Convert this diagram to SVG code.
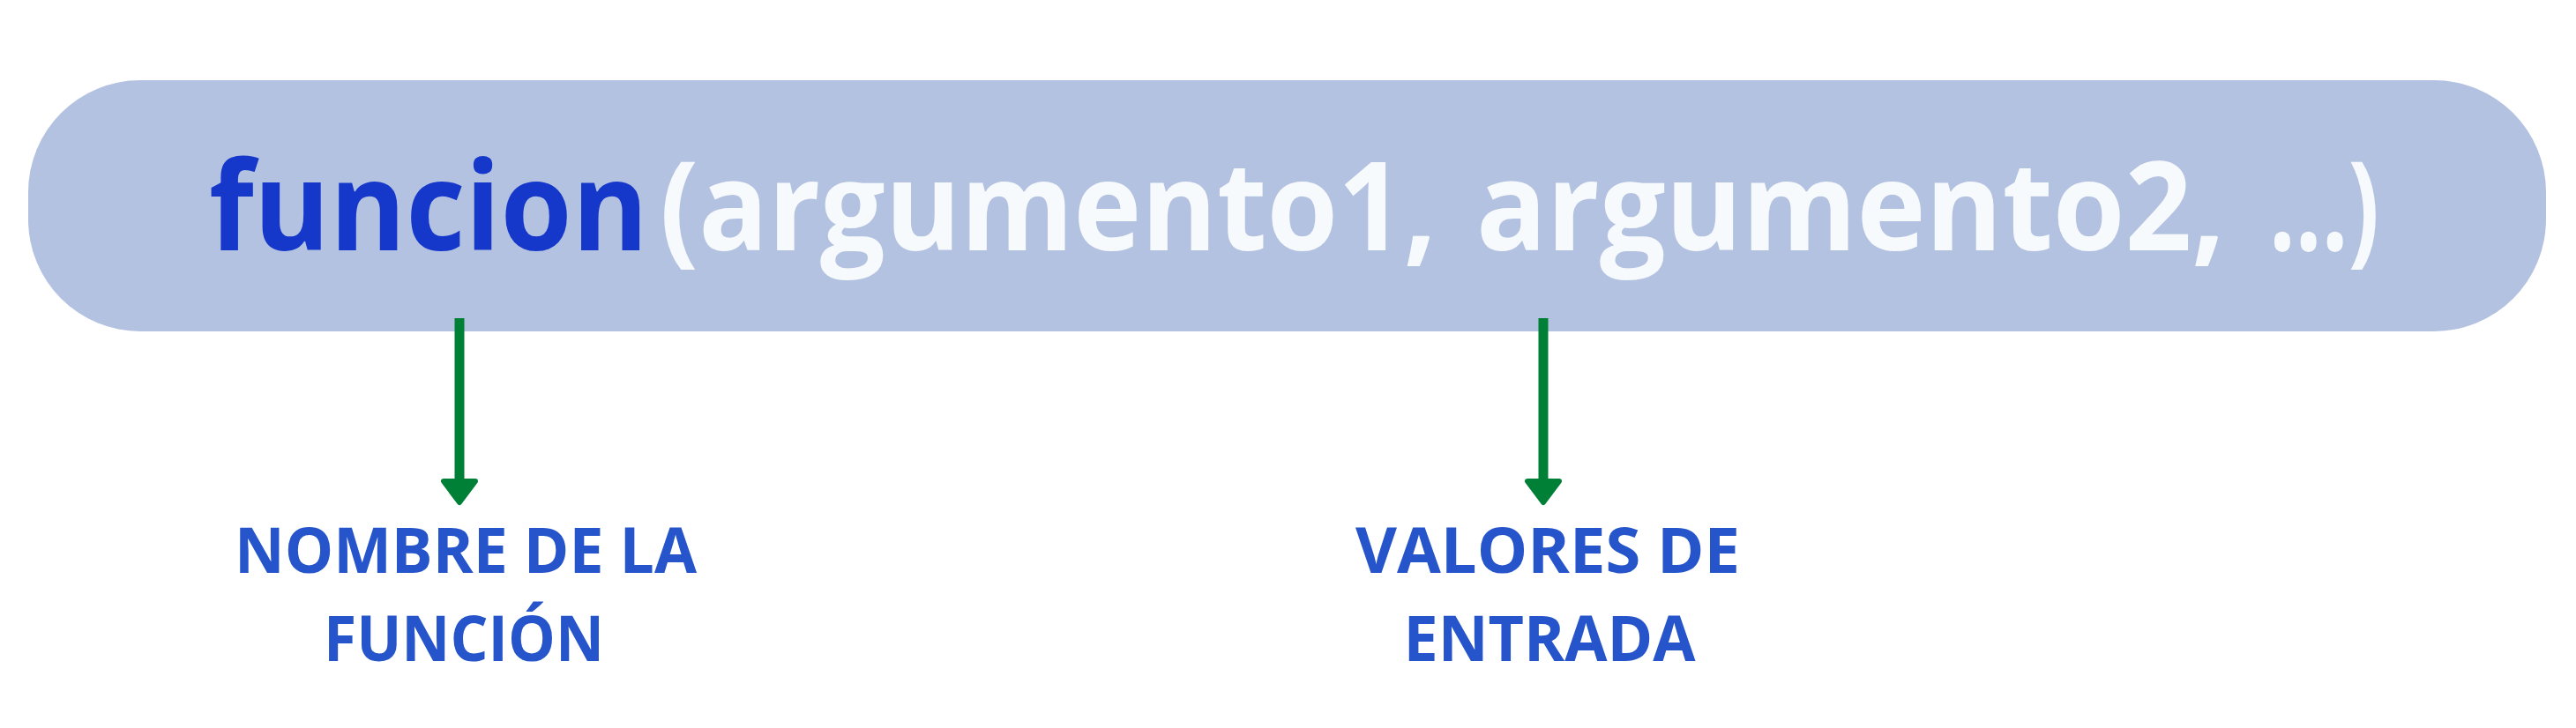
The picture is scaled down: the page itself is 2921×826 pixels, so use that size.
<svg xmlns="http://www.w3.org/2000/svg" width="2921" height="826" viewBox="0 0 2921 826">
  <style>
    .code { font-family: "Open Sans", "Liberation Sans", sans-serif; font-weight: 700; font-size: 140px; }
    .fn { fill: #1538CA; }
    .arg { fill: #F7FAFC; }
    .label { font-family: "Open Sans", "Liberation Sans", sans-serif; font-weight: 700; font-size: 72px; fill: #2554CB; text-anchor: middle; }
    .conn { stroke: #008037; stroke-width: 11; fill: none; }
  </style>
  <defs>
    <marker id="head" markerUnits="userSpaceOnUse" viewBox="-10 -30 50 60" refX="0" refY="0" markerWidth="50" markerHeight="60" orient="auto" overflow="visible">
      <path d="M0,-18 L24,0 L0,18 Z" fill="#008037" stroke="#008037" stroke-width="6" stroke-linejoin="round"/>
    </marker>
  </defs>
  <rect width="2921" height="826" fill="#FFFFFF"/>
  <g id="funcion-call">
    <rect x="32" y="91" width="2855" height="285" rx="127" ry="127" fill="#B4C2E1"/>
    <text class="code fn" x="237" y="284" textLength="498" lengthAdjust="spacingAndGlyphs">funcion</text>
    <text class="code arg" x="748" y="284" textLength="881" lengthAdjust="spacingAndGlyphs">(argumento1,</text>
    <text class="code arg" x="1674" y="284" textLength="849" lengthAdjust="spacingAndGlyphs">argumento2,</text>
    <text class="code arg" x="2573" y="284" textLength="125" lengthAdjust="spacingAndGlyphs">...)</text>
  </g>
  <g id="connectors">
    <line class="conn" x1="521" y1="361" x2="521" y2="546" marker-end="url(#head)"/>
    <line class="conn" x1="1750" y1="361" x2="1750" y2="546" marker-end="url(#head)"/>
  </g>
  <g id="nombre-funcion">
    <text class="label" x="528" y="650" textLength="524" lengthAdjust="spacingAndGlyphs">NOMBRE DE LA</text>
    <text class="label" x="526" y="750" textLength="318" lengthAdjust="spacingAndGlyphs">FUNCIÓN</text>
  </g>
  <g id="valores-entrada">
    <text class="label" x="1755" y="650" textLength="436" lengthAdjust="spacingAndGlyphs">VALORES DE</text>
    <text class="label" x="1757" y="750" textLength="331" lengthAdjust="spacingAndGlyphs">ENTRADA</text>
  </g>
</svg>
